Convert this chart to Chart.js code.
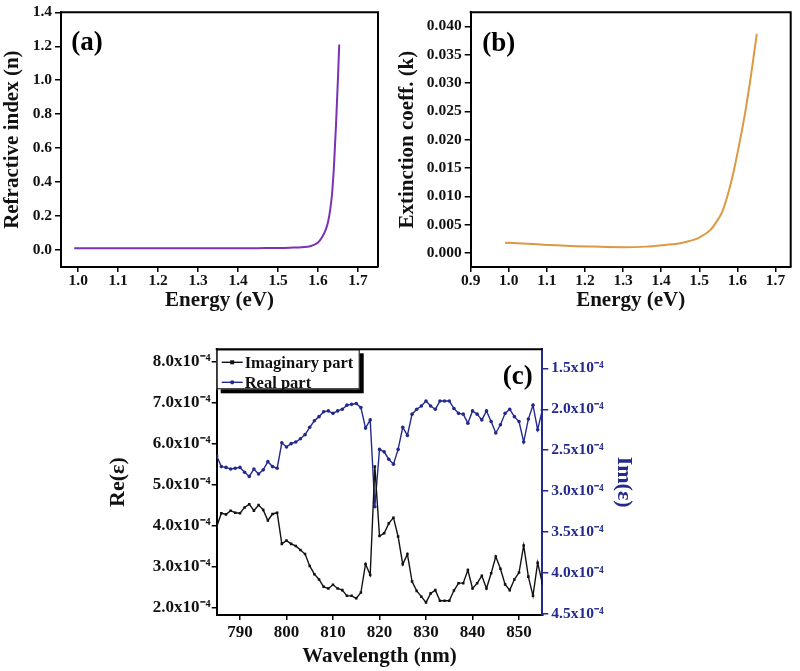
<!DOCTYPE html>
<html>
<head>
<meta charset="utf-8">
<script src="https://cdn.jsdelivr.net/npm/chart.js@4.4.1/dist/chart.umd.min.js"></script>
<style>
  html, body { margin: 0; padding: 0; background: #fff; }
  body { width: 800px; height: 671px; position: relative; overflow: hidden; }
  .panel { position: absolute; }
  .panel canvas { display: block; }
</style>
</head>
<body>
<div class="panel" style="left:0;top:0"><canvas id="canvas-a" width="400" height="320"></canvas></div>
<div class="panel" style="left:395px;top:0"><canvas id="canvas-b" width="405" height="320"></canvas></div>
<div class="panel" style="left:80px;top:325px"><canvas id="canvas-c" width="720" height="346"></canvas></div>
<script>
// (a) refractive index vs energy
const energyA = [0.99, 1.05, 1.10, 1.15, 1.20, 1.25, 1.30, 1.35, 1.40, 1.45, 1.50, 1.53, 1.56, 1.58,
                 1.60, 1.61, 1.62, 1.625, 1.63, 1.635, 1.64, 1.645, 1.65, 1.653];
const nA      = [0.010, 0.010, 0.010, 0.010, 0.010, 0.010, 0.010, 0.010, 0.010, 0.011, 0.012, 0.014, 0.017, 0.022,
                 0.045, 0.075, 0.125, 0.165, 0.23, 0.33, 0.50, 0.74, 1.02, 1.21];
const ticksAx = [1.0, 1.1, 1.2, 1.3, 1.4, 1.5, 1.6, 1.7];
const ticksAy = [0.0, 0.2, 0.4, 0.6, 0.8, 1.0, 1.2, 1.4];

// (b) extinction coefficient vs energy
const energyB = [0.99, 1.05, 1.10, 1.16, 1.22, 1.30, 1.36, 1.41, 1.45, 1.48, 1.50, 1.53, 1.55, 1.56,
                 1.575, 1.59, 1.605, 1.62, 1.635, 1.645, 1.651];
const kB      = [0.0018, 0.0016, 0.0014, 0.0012, 0.0011, 0.0010, 0.0011, 0.0014, 0.0017, 0.0022, 0.0027, 0.0041, 0.0060, 0.0072,
                 0.0103, 0.0143, 0.0192, 0.0246, 0.0310, 0.0358, 0.0387];
const ticksBx = [0.9, 1.0, 1.1, 1.2, 1.3, 1.4, 1.5, 1.6, 1.7];
const ticksBy = [0.000, 0.005, 0.010, 0.015, 0.020, 0.025, 0.030, 0.035, 0.040];

// (c) permittivity vs wavelength, values in units of 1e-4
const wavelength = [785, 786, 787, 788, 789, 790, 791, 792, 793, 794, 795, 796, 797, 798, 799,
                    800, 801, 802, 803, 804, 805, 806, 807, 808, 809, 810, 811, 812, 813, 814,
                    815, 816, 817, 818, 819, 820, 821, 822, 823, 824, 825, 826, 827, 828, 829,
                    830, 831, 832, 833, 834, 835, 836, 837, 838, 839, 840, 841, 842, 843, 844,
                    845, 846, 847, 848, 849, 850, 851, 852, 853, 854, 855];
const imagPart = [3.97, 4.30, 4.27, 4.36, 4.31, 4.30, 4.44, 4.52, 4.36, 4.50, 4.38, 4.12, 4.28, 4.31, 3.55,
                  3.63, 3.55, 3.50, 3.40, 3.30, 3.01, 2.81, 2.68, 2.50, 2.46, 2.55, 2.46, 2.42, 2.28, 2.28,
                  2.22, 2.36, 3.06, 2.79, 5.44, 3.74, 3.81, 4.05, 4.19, 3.73, 3.05, 3.30, 2.63, 2.40, 2.26,
                  2.12, 2.34, 2.42, 2.16, 2.16, 2.16, 2.41, 2.59, 2.59, 2.91, 2.46, 2.59, 2.77, 2.46, 2.83,
                  3.24, 2.94, 2.56, 2.42, 2.68, 2.85, 3.51, 2.75, 2.28, 3.09, 2.59];
const realPart = [2.57, 2.70, 2.71, 2.73, 2.72, 2.71, 2.77, 2.82, 2.73, 2.79, 2.74, 2.64, 2.70, 2.72, 2.41,
                  2.46, 2.42, 2.40, 2.36, 2.31, 2.22, 2.14, 2.09, 2.03, 2.02, 2.05, 2.02, 2.00, 1.95, 1.94,
                  1.93, 1.98, 2.23, 2.13, 3.19, 2.49, 2.52, 2.61, 2.67, 2.49, 2.22, 2.32, 2.06, 2.00, 1.96,
                  1.90, 1.96, 2.00, 1.90, 1.90, 1.90, 1.99, 2.05, 2.06, 2.17, 2.02, 2.06, 2.13, 2.02, 2.15,
                  2.29, 2.19, 2.05, 2.00, 2.09, 2.15, 2.40, 2.12, 1.95, 2.25, 2.01];
const ticksCx  = [790, 800, 810, 820, 830, 840, 850];
const ticksCre = [2.0, 3.0, 4.0, 5.0, 6.0, 7.0, 8.0];
const ticksCim = [1.5, 2.0, 2.5, 3.0, 3.5, 4.0, 4.5];

const FONT  = '"Liberation Serif", "Times New Roman", serif';
const NAVY  = '#232a8c';
const BLACK = '#111';

Chart.defaults.font.family = FONT;
Chart.defaults.font.weight = 'bold';
Chart.defaults.color = BLACK;
Chart.defaults.animation = false;

const toPoints = (xs, ys) => xs.map((x, i) => ({ x, y: ys[i] }));
const fixTicks = arr => scale => { scale.ticks = arr.map(value => ({ value })); };

// top / right frame lines and the panel letter
const framePlugin = {
  id: 'frame',
  afterDraw(chart, args, o) {
    const { ctx, chartArea: a } = chart;
    ctx.save();
    ctx.lineWidth = 2;
    ctx.strokeStyle = '#000';
    ctx.beginPath();
    ctx.moveTo(a.left - 1, a.top);
    ctx.lineTo(a.right, a.top);
    if (o.right) ctx.lineTo(a.right, a.bottom);
    ctx.stroke();
    ctx.font = `bold 27px ${FONT}`;
    ctx.fillStyle = '#000';
    ctx.textAlign = 'center';
    ctx.textBaseline = 'middle';
    ctx.fillText(o.label, a.left + o.lx, a.top + o.ly);
    ctx.restore();
  }
};

// legend in the top-left corner of (c): framed box with a drop shadow
const legendBoxPlugin = {
  id: 'legendBox',
  afterDatasetsDraw(chart) {
    const { ctx, chartArea: a } = chart;
    const x = a.left, y = a.top, w = 143, h = 40;
    ctx.save();
    ctx.fillStyle = '#000';
    ctx.fillRect(x + 4, y + 4, w, h);
    ctx.fillStyle = '#fff';
    ctx.fillRect(x, y, w, h);
    ctx.lineWidth = 1;
    ctx.strokeStyle = '#000';
    ctx.strokeRect(x + 0.5, y + 0.5, w - 1, h - 1);
    ctx.font = `bold 16.5px ${FONT}`;
    ctx.textBaseline = 'middle';
    ctx.textAlign = 'left';
    chart.data.datasets.forEach((ds, i) => {
      const cy = y + 13 + i * 20;
      ctx.strokeStyle = ds.borderColor;
      ctx.fillStyle = ds.borderColor;
      ctx.lineWidth = 1.4;
      ctx.beginPath();
      ctx.moveTo(x + 5, cy);
      ctx.lineTo(x + 26, cy);
      ctx.stroke();
      ctx.beginPath();
      if (ds.pointStyle === 'rect') ctx.rect(x + 13.5, cy - 2, 4, 4);
      else ctx.arc(x + 15.5, cy, 2.1, 0, Math.PI * 2);
      ctx.fill();
      ctx.fillStyle = BLACK;
      ctx.fillText(ds.label, x + 28, cy + 1);
    });
    ctx.restore();
  }
};

function axisCommon(extra) {
  return Object.assign({
    type: 'linear',
    border: { display: true, color: '#000', width: 2 },
  }, extra);
}

// ---- (a) ----
new Chart(document.getElementById('canvas-a'), {
  type: 'scatter',
  data: {
    datasets: [{
      data: toPoints(energyA, nA),
      showLine: true,
      borderColor: '#7a33b3',
      borderWidth: 2,
      pointRadius: 0,
      cubicInterpolationMode: 'monotone',
    }],
  },
  options: {
    responsive: false,
    layout: { padding: { top: 10, right: 22, left: 0, bottom: 0 } },
    plugins: { legend: { display: false }, tooltip: { enabled: false },
               frame: { right: true, label: '(a)', lx: 26, ly: 31 } },
    scales: {
      x: axisCommon({
        min: 0.957, max: 1.75,
        afterBuildTicks: fixTicks(ticksAx),
        afterFit: s => { s.height = 53; },
        grid: { display: true, drawOnChartArea: false, color: '#000', lineWidth: 1.5, tickLength: 5 },
        ticks: { padding: 0, font: { size: 15.5 }, color: BLACK, maxRotation: 0, callback: v => v.toFixed(1) },
        title: { display: true, text: 'Energy (eV)', font: { size: 21 }, color: BLACK, padding: { top: 0, bottom: 7 } },
      }),
      y: axisCommon({
        min: -0.1, max: 1.4,
        afterBuildTicks: fixTicks(ticksAy),
        afterFit: s => { s.width = 61; },
        grid: { display: true, drawOnChartArea: false, color: '#000', lineWidth: 1.5, tickLength: 6 },
        ticks: { padding: 3, font: { size: 15.5 }, color: BLACK, callback: v => v.toFixed(1) },
        title: { display: true, text: 'Refractive index (n)', font: { size: 21 }, color: BLACK, padding: { top: 0, bottom: 0 } },
      }),
    },
  },
  plugins: [framePlugin],
});

// ---- (b) ----
new Chart(document.getElementById('canvas-b'), {
  type: 'scatter',
  data: {
    datasets: [{
      data: toPoints(energyB, kB),
      showLine: true,
      borderColor: '#dc9843',
      borderWidth: 2,
      pointRadius: 0,
      cubicInterpolationMode: 'monotone',
    }],
  },
  options: {
    responsive: false,
    layout: { padding: { top: 6, right: 9.3, left: 0, bottom: 0 } },
    plugins: { legend: { display: false }, tooltip: { enabled: false },
               frame: { right: true, label: '(b)', lx: 28, ly: 32 } },
    scales: {
      x: axisCommon({
        min: 0.9, max: 1.74,
        afterBuildTicks: fixTicks(ticksBx),
        afterFit: s => { s.height = 53; },
        grid: { display: true, drawOnChartArea: false, color: '#000', lineWidth: 1.5, tickLength: 5 },
        ticks: { padding: 0, font: { size: 15.5 }, color: BLACK, maxRotation: 0, callback: v => v.toFixed(1) },
        title: { display: true, text: 'Energy (eV)', font: { size: 21 }, color: BLACK, padding: { top: 0, bottom: 7 } },
      }),
      y: axisCommon({
        min: -0.0025, max: 0.0425,
        afterBuildTicks: fixTicks(ticksBy),
        afterFit: s => { s.width = 75.7; },
        grid: { display: true, drawOnChartArea: false, color: '#000', lineWidth: 1.5, tickLength: 6 },
        ticks: { padding: 3, font: { size: 15.5 }, color: BLACK, callback: v => v.toFixed(3) },
        title: { display: true, text: 'Extinction coeff. (k)', font: { size: 21 }, color: BLACK, padding: { top: 0, bottom: 0 } },
      }),
    },
  },
  plugins: [framePlugin],
});

// ---- (c) ----
new Chart(document.getElementById('canvas-c'), {
  type: 'scatter',
  data: {
    datasets: [{
      label: 'Imaginary part',
      data: toPoints(wavelength, imagPart),
      yAxisID: 'y',
      showLine: true,
      borderColor: BLACK,
      backgroundColor: BLACK,
      borderWidth: 1.4,
      pointStyle: 'rect',
      pointRadius: 1.8,
      pointBorderWidth: 0,
    }, {
      label: 'Real part',
      data: toPoints(wavelength, realPart),
      yAxisID: 'y2',
      showLine: true,
      borderColor: NAVY,
      backgroundColor: NAVY,
      borderWidth: 1.4,
      pointStyle: 'circle',
      pointRadius: 1.8,
      pointBorderWidth: 0,
    }],
  },
  options: {
    responsive: false,
    layout: { padding: { top: 24.3, right: 137.7, left: 0, bottom: 0 } },
    plugins: {
      tooltip: { enabled: false },
      legend: { display: false },
      frame: { right: false, label: '(c)', lx: 301, ly: 28 },
    },
    scales: {
      x: axisCommon({
        min: 785, max: 855,
        afterBuildTicks: fixTicks(ticksCx),
        afterFit: s => { s.height = 56; },
        grid: { display: true, drawOnChartArea: false, color: '#000', lineWidth: 1.5, tickLength: 5 },
        ticks: { padding: 2, font: { size: 17 }, color: BLACK, maxRotation: 0, callback: v => String(v) },
        title: { display: true, text: 'Wavelength (nm)', font: { size: 21 }, color: BLACK, padding: { top: 0, bottom: 2 } },
      }),
      y: axisCommon({
        position: 'left',
        min: 1.812, max: 8.303,
        afterBuildTicks: fixTicks(ticksCre),
        afterFit: s => { s.width = 136.7; },
        grid: { display: true, drawOnChartArea: false, color: '#000', lineWidth: 1.5, tickLength: 5 },
        ticks: { padding: 1, font: { size: 17 }, color: BLACK, callback: v => v.toFixed(1) + 'x10\u207B\u2074' },
        title: { display: true, text: 'Re(\u03B5)', font: { size: 22 }, color: BLACK, padding: { top: 25, bottom: 0 } },
      }),
      y2: axisCommon({
        position: 'right',
        reverse: true,
        min: 1.268, max: 4.512,
        afterBuildTicks: fixTicks(ticksCim),
        afterFit: s => { s.width = 120; },
        grid: { display: true, drawOnChartArea: false, color: NAVY, lineWidth: 1.5, tickLength: 6 },
        border: { display: true, color: NAVY, width: 2 },
        ticks: { padding: 3, font: { size: 15.5 }, color: NAVY, callback: v => v.toFixed(1) + 'x10\u207B\u2074' },
        title: { display: true, text: 'Im(\u03B5)', font: { size: 22 }, color: NAVY, padding: { top: 25, bottom: 0 } },
      }),
    },
  },
  plugins: [legendBoxPlugin, framePlugin],
});
</script>
</body>
</html>
